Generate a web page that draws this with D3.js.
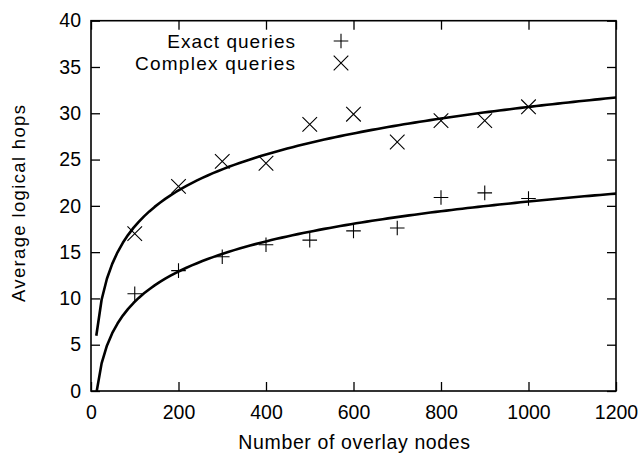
<!DOCTYPE html>
<html>
<head>
<meta charset="utf-8">
<script src="https://cdn.jsdelivr.net/npm/d3@7"></script>
<style>
html,body{margin:0;padding:0;background:#fff;}
text{font-family:"Liberation Sans",Arial,Helvetica,sans-serif;fill:#000;}
</style>
</head>
<body>
<svg id="chart" width="644" height="454"></svg>
<script>
// ---- data ----
const nodes = [100, 200, 300, 400, 500, 600, 700, 800, 900, 1000];
const exactHops = [10.5, 13.0, 14.5, 15.8, 16.3, 17.3, 17.6, 20.9, 21.4, 20.8];
const complexHops = [17.0, 22.1, 24.8, 24.6, 28.8, 29.9, 26.9, 29.2, 29.2, 30.7];
// logarithmic fit coefficients (hops = a*ln(n) + b)
const exactFit = [4.70, -12.0];
const complexFit = [5.60, -8.0];
const xTicks = [0, 200, 400, 600, 800, 1000, 1200];
const yTicks = [0, 5, 10, 15, 20, 25, 30, 35, 40];
const seriesNames = ["Exact queries", "Complex queries"];
const xTitle = "Number of overlay nodes";
const yTitle = "Average logical hops";

// ---- layout ----
const svg = d3.select("#chart");
const L = 91, R = 616, T = 20.7, B = 391;
const x = d3.scaleLinear().domain([0, 1200]).range([L, R]);
const y = d3.scaleLinear().domain([0, 40]).range([B, T]);
const tickLen = 9;

svg.append("defs").append("clipPath").attr("id", "clip")
  .append("rect").attr("x", L).attr("y", T).attr("width", R - L).attr("height", B - T);

// axes
const axStyle = g => {
  g.select(".domain").remove();
  g.selectAll(".tick line").attr("stroke", "#000").attr("stroke-width", 1.3);
  g.selectAll(".tick text").attr("font-size", 19.5).attr("font-family", '"Liberation Sans",Arial,sans-serif').attr("fill", "#000");
};
svg.append("g").attr("transform", `translate(0,${B})`)
  .call(d3.axisBottom(x).tickValues(xTicks).tickFormat(d3.format("d")).tickSizeInner(-tickLen).tickSizeOuter(0).tickPadding(14))
  .call(axStyle);
svg.append("g").attr("transform", `translate(0,${T})`)
  .call(d3.axisTop(x).tickValues(xTicks).tickFormat("").tickSizeInner(-tickLen).tickSizeOuter(0))
  .call(axStyle);
svg.append("g").attr("transform", `translate(${L},0)`)
  .call(d3.axisLeft(y).tickValues(yTicks).tickFormat(d3.format("d")).tickSizeInner(-tickLen).tickSizeOuter(0).tickPadding(10))
  .call(axStyle);
svg.append("g").attr("transform", `translate(${R},0)`)
  .call(d3.axisRight(y).tickValues(yTicks).tickFormat("").tickSizeInner(-tickLen).tickSizeOuter(0))
  .call(axStyle);

// frame
svg.append("rect").attr("x", L).attr("y", T).attr("width", R - L).attr("height", B - T)
  .attr("fill", "none").attr("stroke", "#000").attr("stroke-width", 1.6);

// fit curves (sampled like gnuplot: 100 samples over the x range)
const samples = d3.range(1, 101).map(i => i * 1200 / 99);
const line = d3.line().x(d => x(d[0])).y(d => y(d[1]));
[exactFit, complexFit].forEach(f => {
  const pts = samples.map(n => [n, f[0] * Math.log(n) + f[1]]);
  svg.append("path").attr("d", line(pts)).attr("clip-path", "url(#clip)")
    .attr("fill", "none").attr("stroke", "#000").attr("stroke-width", 2.6).attr("stroke-linejoin", "round");
});

// markers
const plusPath = (cx, cy, s) => `M${cx - s},${cy}H${cx + s}M${cx},${cy - s}V${cy + s}`;
const crossPath = (cx, cy, s) => `M${cx - s},${cy - s}L${cx + s},${cy + s}M${cx - s},${cy + s}L${cx + s},${cy - s}`;
svg.append("g").selectAll("path").data(nodes).join("path")
  .attr("d", (d, i) => plusPath(x(d), y(exactHops[i]), 7.3))
  .attr("stroke", "#000").attr("stroke-width", 1.1).attr("fill", "none");
svg.append("g").selectAll("path").data(nodes).join("path")
  .attr("d", (d, i) => crossPath(x(d), y(complexHops[i]), 7.3))
  .attr("stroke", "#000").attr("stroke-width", 1.1).attr("fill", "none");

// legend
const legY = [41, 63];
seriesNames.forEach((name, i) => {
  svg.append("text").attr("x", 295).attr("y", legY[i] + 6.5).attr("text-anchor", "end")
    .attr("font-size", 19).attr("textLength", i === 0 ? 127.7 : 160).attr("lengthAdjust", "spacing").text(name);
  svg.append("path").attr("d", (i === 0 ? plusPath : crossPath)(341, legY[i], 7.3))
    .attr("stroke", "#000").attr("stroke-width", 1.1).attr("fill", "none");
});

// axis titles
svg.append("text").attr("x", (L + R) / 2 + 0.7).attr("y", 449.3).attr("text-anchor", "middle")
  .attr("font-size", 19.5).attr("textLength", 231.7).attr("lengthAdjust", "spacing").text(xTitle);
svg.append("text").attr("transform", `translate(24.5,203.5) rotate(-90)`).attr("text-anchor", "middle")
  .attr("font-size", 18.5).attr("textLength", 197).attr("lengthAdjust", "spacing").text(yTitle);
</script>
</body>
</html>
